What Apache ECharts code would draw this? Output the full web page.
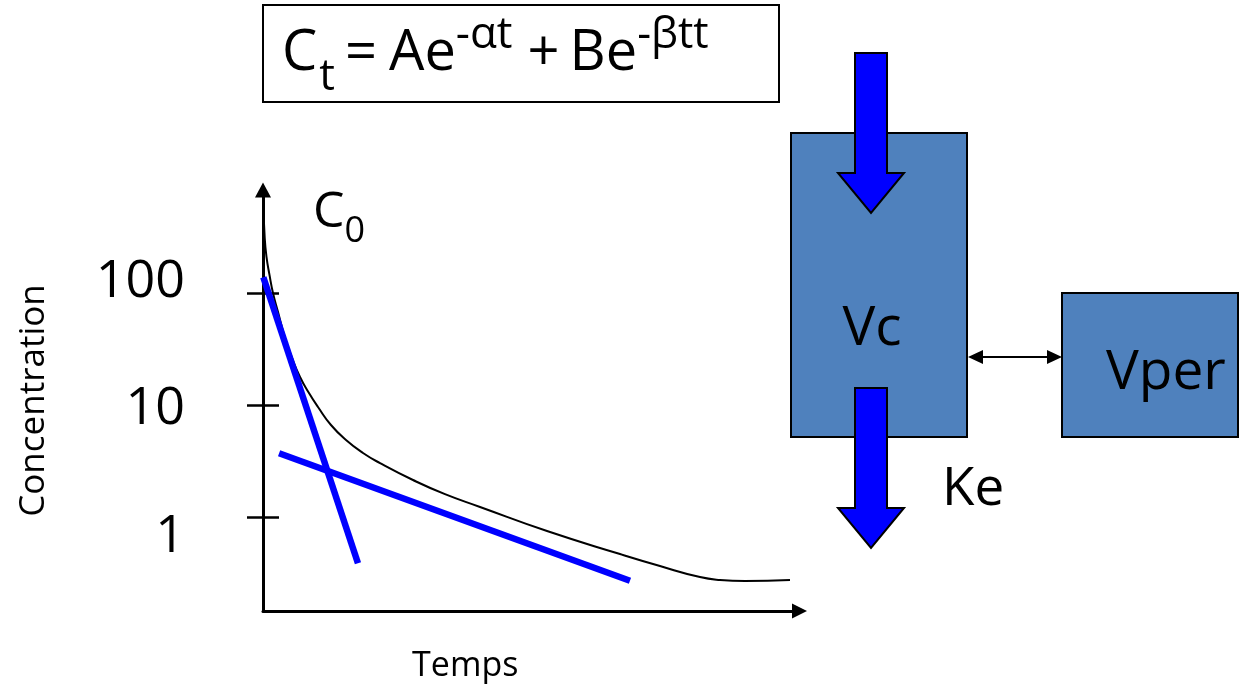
<!DOCTYPE html>
<html>
<head>
<meta charset="utf-8">
<script src="https://cdn.jsdelivr.net/npm/echarts@6/dist/echarts.min.js"></script>
<style>
html,body{margin:0;padding:0;background:#fff;}
#chart{width:1239px;height:690px;}
</style>
</head>
<body>
<div id="chart"></div>
<script>
// ---- data ----
const yTickValues = [1, 10, 100];
const curveTime = [0, 0.32, 0.65, 1.21, 1.86, 2.8, 4.1, 5.41, 6.9, 8.57, 10.25, 12.67, 15.47, 18.64, 21.81, 27.96, 33.92, 40.45, 52.94, 66.54, 73.99, 81.45, 85.18, 89.84, 98.23];
const curveConc = [720, 310, 210, 145, 100, 67.6, 39.6, 26.3, 17.8, 12.8, 9.6, 6.63, 4.87, 3.73, 3.03, 2.14, 1.6, 1.23, 0.75, 0.467, 0.365, 0.291, 0.274, 0.268, 0.274];
const alphaTime = [0.06, 17.7];
const alphaConc = [138, 0.386];
const betaTime = [3.0, 68.4];
const betaConc = [3.71, 0.27];
const formulaText = '{m|C}{sub|t}{eq|=}{ae|Ae}{sup1|-αt}{pl|+}{be|Be}{sup2|-βtt}';
const c0Text = '{m|C}{sub|0}';
const xName = 'Temps';
const yName = 'Concentration';

const FONT = 'Open Sans';
const pairs = (xs, ys) => xs.map((x, i) => [x, ys[i]]);

const chart = echarts.init(document.getElementById('chart'), null, {renderer: 'canvas'});

const labelRich = {
  u: {fontSize: 52, fontFamily: FONT, color: '#000', padding: [0, 0, 21, 0]},
  c: {fontSize: 52, fontFamily: FONT, color: '#000', padding: [9, 0, 0, 0]},
  d: {fontSize: 52, fontFamily: FONT, color: '#000', padding: [41, 0, 0, 0]}
};

const yBase = {
  type: 'log',
  logBase: 10,
  min: 0.1449,
  max: 831,
  position: 'left',
  offset: 0,
  splitLine: {show: false},
  minorTick: {show: false}
};

const mainStyle = (padLeft) => ({fontSize: 56, fontFamily: FONT, fill: '#000', padding: [0, 0, 0, padLeft]});
const supStyle = (size, padLeft) => ({fontSize: size, fontFamily: FONT, fill: '#000', padding: [0, 0, 37, padLeft]});

const option = {
  backgroundColor: '#fff',
  animation: false,
  grid: {left: 263, top: 190, width: 536.5, height: 421, containLabel: false, outerBoundsMode: 'none'},
  xAxis: {
    type: 'value',
    min: 0,
    max: 100,
    name: xName,
    nameLocation: 'middle',
    nameGap: 38,
    nameTextStyle: {fontSize: 34, fontFamily: FONT, color: '#000', padding: [0, 132, 0, 0]},
    axisLine: {show: true, onZero: false, symbol: ['none', 'triangle'], symbolSize: [15, 15], lineStyle: {color: '#000', width: 3}},
    axisTick: {show: false},
    axisLabel: {show: false},
    splitLine: {show: false}
  },
  yAxis: [
    Object.assign({}, yBase, {
      name: yName,
      nameLocation: 'middle',
      nameRotate: 90,
      nameGap: 211,
      nameTextStyle: {fontSize: 35, fontFamily: FONT, color: '#000'},
      axisLine: {show: true, onZero: false, symbol: ['none', 'triangle'], symbolSize: [16, 15], lineStyle: {color: '#000', width: 3}},
      axisTick: {show: true, inside: false, length: 16, customValues: yTickValues, lineStyle: {color: '#000', width: 2.5}},
      axisLabel: {
        show: true,
        margin: 78,
        customValues: yTickValues,
        fontSize: 52,
        fontFamily: FONT,
        color: '#000',
        formatter: function (v) {
          const r = Math.round(v);
          if (r === 100) return '{u|100}';
          if (r === 10) return '{c|10}';
          return '{d|' + r + '}';
        },
        rich: labelRich
      }
    }),
    Object.assign({}, yBase, {
      axisLine: {show: false},
      axisTick: {show: true, inside: true, length: 16, customValues: yTickValues, lineStyle: {color: '#000', width: 2.5}},
      axisLabel: {show: false}
    })
  ],
  series: [
    {
      type: 'line',
      name: 'C(t)',
      yAxisIndex: 0,
      data: pairs(curveTime, curveConc),
      showSymbol: false,
      smooth: 0.5,
      lineStyle: {color: '#000', width: 2},
      z: 3
    },
    {
      type: 'line',
      name: 'alpha',
      yAxisIndex: 0,
      data: pairs(alphaTime, alphaConc),
      showSymbol: false,
      lineStyle: {color: '#0000FF', width: 6.5, cap: 'butt'},
      z: 4
    },
    {
      type: 'line',
      name: 'beta',
      yAxisIndex: 0,
      data: pairs(betaTime, betaConc),
      showSymbol: false,
      lineStyle: {color: '#0000FF', width: 6.5, cap: 'butt'},
      z: 4
    }
  ],
  graphic: [
    // formula box
    {type: 'rect', shape: {x: 263, y: 5, width: 516, height: 97}, style: {fill: 'none', stroke: '#000', lineWidth: 2}, z: 10},
    {type: 'text', x: 282, y: 54, style: {
      text: formulaText, align: 'left', verticalAlign: 'middle', fill: '#000', fontSize: 56, fontFamily: FONT,
      rich: {
        m: mainStyle(0),
        sub: {fontSize: 44, fontFamily: FONT, fill: '#000', padding: [47, 0, 0, 2]},
        eq: mainStyle(10),
        ae: mainStyle(12),
        sup1: supStyle(44, 0),
        pl: mainStyle(15),
        be: mainStyle(10),
        sup2: supStyle(43, 0)
      }
    }, z: 10},
    // C0 label
    {type: 'text', x: 313, y: 213, style: {
      text: c0Text, align: 'left', verticalAlign: 'middle', fill: '#000', fontSize: 50, fontFamily: FONT,
      rich: {
        m: {fontSize: 50, fontFamily: FONT, fill: '#000'},
        sub: {fontSize: 36, fontFamily: FONT, fill: '#000', padding: [38, 0, 0, 0]}
      }
    }, z: 10},
    // compartments
    {type: 'rect', shape: {x: 791, y: 133, width: 176, height: 304}, style: {fill: '#4F81BD', stroke: '#000', lineWidth: 2}, z: 10},
    {type: 'rect', shape: {x: 1062, y: 293, width: 176, height: 144}, style: {fill: '#4F81BD', stroke: '#000', lineWidth: 2}, z: 10},
    {type: 'text', x: 872, y: 329, style: {text: 'Vc', align: 'center', verticalAlign: 'middle', fill: '#000', fontSize: 55, fontFamily: FONT}, z: 11},
    {type: 'text', x: 1106, y: 373, style: {text: 'Vper', align: 'left', verticalAlign: 'middle', fill: '#000', fontSize: 55, fontFamily: FONT}, z: 11},
    {type: 'text', x: 942, y: 490, style: {text: 'Ke', align: 'left', verticalAlign: 'middle', fill: '#000', fontSize: 53, fontFamily: FONT}, z: 11},
    // input arrow
    {type: 'polygon', shape: {points: [[855, 53], [887, 53], [887, 173], [904, 173], [871, 213], [838, 173], [855, 173]]}, style: {fill: '#0000FF', stroke: '#000', lineWidth: 2, lineJoin: 'miter'}, z: 12},
    // elimination arrow
    {type: 'polygon', shape: {points: [[855, 388], [887, 388], [887, 508], [904, 508], [871, 548], [838, 508], [855, 508]]}, style: {fill: '#0000FF', stroke: '#000', lineWidth: 2, lineJoin: 'miter'}, z: 12},
    // exchange double arrow
    {type: 'line', shape: {x1: 980, y1: 357, x2: 1050, y2: 357}, style: {stroke: '#000', lineWidth: 2}, z: 12},
    {type: 'polygon', shape: {points: [[968, 357], [983, 350], [983, 364]]}, style: {fill: '#000'}, z: 12},
    {type: 'polygon', shape: {points: [[1062, 357], [1047, 350], [1047, 364]]}, style: {fill: '#000'}, z: 12}
  ]
};

chart.setOption(option);
</script>
</body>
</html>
